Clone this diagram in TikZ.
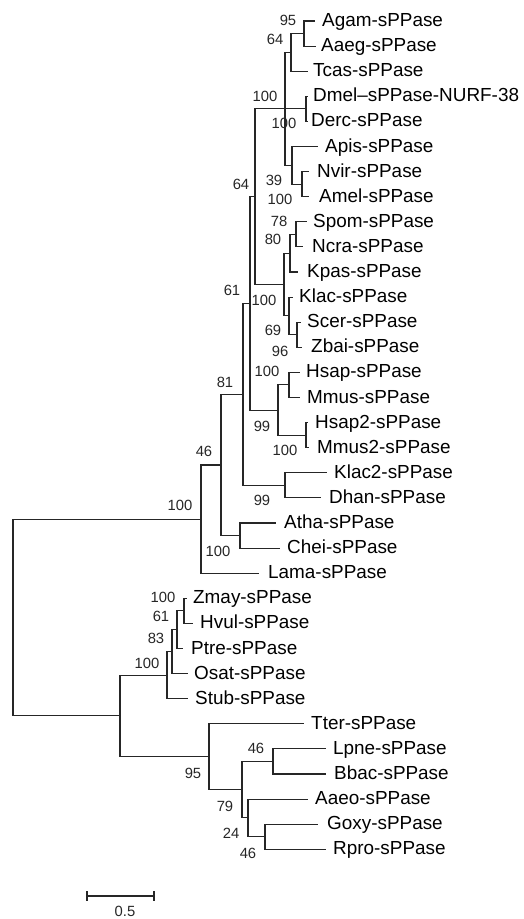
\documentclass[tikz,border=0pt]{standalone}
\usepackage{fontspec}
\setmainfont{Liberation Sans}
\newcommand\mkleaf[6]{%
  \coordinate (#1) at (#4, {21+25.1*#2});
  \draw[br] (#3) |- (#1);
  \node[tip] (#1t) at (#5, {21+25.1*#2+5.5}) {#6};}
\begin{document}
\begin{tikzpicture}[x=1pt,y=-1pt,
  br/.style={line width=1.05pt, draw=black!85},
  tip/.style={anchor=base west, inner sep=0pt, font=\fontsize{18.9}{20}\selectfont, text=black},
  bs/.style={anchor=base, inner sep=0pt, text depth=0pt, font=\fontsize{14.8}{16}\selectfont, text=black!85}]
\useasboundingbox (0,0) rectangle (523,919);
% internal nodes
\coordinate (nAA) at (304,33.55);
\coordinate (nAAT) at (291,52.4);
\coordinate (nDD) at (306,108.85);
\coordinate (nNA) at (302,184.15);
\coordinate (nANA) at (292,165.3);
\coordinate (nIns) at (285,108.85);
\coordinate (nSN) at (296,234.35);
\coordinate (nSNK) at (290,253.2);
\coordinate (nSZ) at (297,334.75);
\coordinate (nKSZ) at (289,315.9);
\coordinate (nFun) at (284,284.55);
\coordinate (n64) at (255,196.7);
\coordinate (nHM) at (289,384.95);
\coordinate (nHM2) at (306,435.15);
\coordinate (n99) at (278,410.05);
\coordinate (n61) at (250,303.4);
\coordinate (nKD) at (285,485.35);
\coordinate (n81) at (243,394.4);
\coordinate (nAC) at (240,535.55);
\coordinate (n46) at (221,465);
\coordinate (nTop) at (201,519.1);
\coordinate (nZH) at (184,610.85);
\coordinate (nZHP) at (177,629.7);
\coordinate (nZHPO) at (172,651.65);
\coordinate (nPl) at (167,675.2);
\coordinate (nLB) at (273,761.45);
\coordinate (nGR) at (265,836.75);
\coordinate (nAGR) at (248,817.9);
\coordinate (n79) at (242,789.7);
\coordinate (nBac) at (209,756.75);
\coordinate (nBot) at (120,715.95);
\coordinate (root) at (13,617.5);
% internal branches
\draw[br] (nAAT) |- (nAA);
\draw[br] (nIns) |- (nAAT);
\draw[br] (nIns) |- (nDD);
\draw[br] (nIns) |- (nANA);
\draw[br] (nANA) |- (nNA);
\draw[br] (nSNK) |- (nSN);
\draw[br] (nKSZ) |- (nSZ);
\draw[br] (nFun) |- (nSNK);
\draw[br] (nFun) |- (nKSZ);
\draw[br] (n64) |- (nIns);
\draw[br] (n64) |- (nFun);
\draw[br] (n99) |- (nHM);
\draw[br] (n99) |- (nHM2);
\draw[br] (n61) |- (n64);
\draw[br] (n61) |- (n99);
\draw[br] (n81) |- (n61);
\draw[br] (n81) |- (nKD);
\draw[br] (n46) |- (n81);
\draw[br] (n46) |- (nAC);
\draw[br] (nTop) |- (n46);
\draw[br] (nZHP) |- (nZH);
\draw[br] (nZHPO) |- (nZHP);
\draw[br] (nPl) |- (nZHPO);
\draw[br] (nAGR) |- (nGR);
\draw[br] (n79) |- (nLB);
\draw[br] (n79) |- (nAGR);
\draw[br] (nBac) |- (n79);
\draw[br] (nBot) |- (nPl);
\draw[br] (nBot) |- (nBac);
\draw[br] (root) |- (nTop);
\draw[br] (root) |- (nBot);
% leaves
\mkleaf{Agam}{0}{nAA}{315}{322}{Agam-sPPase}
\mkleaf{Aaeg}{1}{nAA}{316}{321}{Aaeg-sPPase}
\mkleaf{Tcas}{2}{nAAT}{308}{313}{Tcas-sPPase}
\mkleaf{Dmel}{3}{nDD}{308}{313}{Dmel–sPPase-NURF-38}
\mkleaf{Derc}{4}{nDD}{308}{311}{Derc-sPPase}
\mkleaf{Apis}{5}{nANA}{318}{325}{Apis-sPPase}
\mkleaf{Nvir}{6}{nNA}{309}{317}{Nvir-sPPase}
\mkleaf{Amel}{7}{nNA}{309}{319}{Amel-sPPase}
\mkleaf{Spom}{8}{nSN}{307}{313}{Spom-sPPase}
\mkleaf{Ncra}{9}{nSN}{303}{312}{Ncra-sPPase}
\mkleaf{Kpas}{10}{nSNK}{298}{307}{Kpas-sPPase}
\mkleaf{Klac}{11}{nKSZ}{293}{299}{Klac-sPPase}
\mkleaf{Scer}{12}{nSZ}{301}{307}{Scer-sPPase}
\mkleaf{Zbai}{13}{nSZ}{302}{311}{Zbai-sPPase}
\mkleaf{Hsap}{14}{nHM}{300}{306}{Hsap-sPPase}
\mkleaf{Mmus}{15}{nHM}{300}{307}{Mmus-sPPase}
\mkleaf{Hsapb}{16}{nHM2}{308}{315}{Hsap2-sPPase}
\mkleaf{Mmusb}{17}{nHM2}{309}{317}{Mmus2-sPPase}
\mkleaf{Klacb}{18}{nKD}{327}{334}{Klac2-sPPase}
\mkleaf{Dhan}{19}{nKD}{321}{329}{Dhan-sPPase}
\mkleaf{Atha}{20}{nAC}{276}{284}{Atha-sPPase}
\mkleaf{Chei}{21}{nAC}{280}{287}{Chei-sPPase}
\mkleaf{Lama}{22}{nTop}{259}{268}{Lama-sPPase}
\mkleaf{Zmay}{23}{nZH}{187}{193}{Zmay-sPPase}
\mkleaf{Hvul}{24}{nZH}{193}{200}{Hvul-sPPase}
\mkleaf{Ptre}{25}{nZHP}{183}{191}{Ptre-sPPase}
\mkleaf{Osat}{26}{nZHPO}{188}{194}{Osat-sPPase}
\mkleaf{Stub}{27}{nPl}{188}{195}{Stub-sPPase}
\mkleaf{Tter}{28}{nBac}{304}{311}{Tter-sPPase}
\mkleaf{Lpne}{29}{nLB}{326}{333}{Lpne-sPPase}
\mkleaf{Bbac}{30}{nLB}{326}{334}{Bbac-sPPase}
\mkleaf{Aaeo}{31}{nAGR}{308}{315}{Aaeo-sPPase}
\mkleaf{Goxy}{32}{nGR}{318}{327}{Goxy-sPPase}
\mkleaf{Rpro}{33}{nGR}{326}{333}{Rpro-sPPase}
% bootstrap values
\node[bs] (bAA) at (288,25) {95};
\node[bs] (bAAT) at (275,44) {64};
\node[bs] (bIns) at (265,101) {100};
\node[bs] (bDD) at (284,128) {100};
\node[bs] (bANA) at (274,185) {39};
\node[bs] (bNA) at (280,204) {100};
\node[bs] (b64) at (241,189) {64};
\node[bs] (bSN) at (279,226) {78};
\node[bs] (bSNK) at (273,244) {80};
\node[bs] (bFun) at (264,305) {100};
\node[bs] (b61) at (232,295) {61};
\node[bs] (bKSZ) at (273,335) {69};
\node[bs] (bSZ) at (280,356) {96};
\node[bs] (bHM) at (267,376) {100};
\node[bs] (b99) at (262,431) {99};
\node[bs] (bHM2) at (285,455) {100};
\node[bs] (b81) at (225,387) {81};
\node[bs] (bKD) at (262,505) {99};
\node[bs] (b46) at (204,456) {46};
\node[bs] (bTop) at (180,510) {100};
\node[bs] (bAC) at (218,556) {100};
\node[bs] (bZH) at (163,602) {100};
\node[bs] (bZHP) at (161,621) {61};
\node[bs] (bZHPO) at (156,643) {83};
\node[bs] (bPl) at (147,668) {100};
\node[bs] (bBac) at (193,778) {95};
\node[bs] (bLB) at (256,753) {46};
\node[bs] (b79) at (225,811) {79};
\node[bs] (bAGR) at (231,838) {24};
\node[bs] (bGR) at (248,858) {46};
% scale bar
\coordinate (sbL) at (87,896);
\coordinate (sbR) at (154,896);
\draw[br] (sbL) -- (sbR);
\draw[br] ([yshift=5pt]sbL) -- ([yshift=-5pt]sbL);
\draw[br] ([yshift=5pt]sbR) -- ([yshift=-5pt]sbR);
\node[bs] (sbT) at (125,916) {0.5};
\end{tikzpicture}
\end{document}
